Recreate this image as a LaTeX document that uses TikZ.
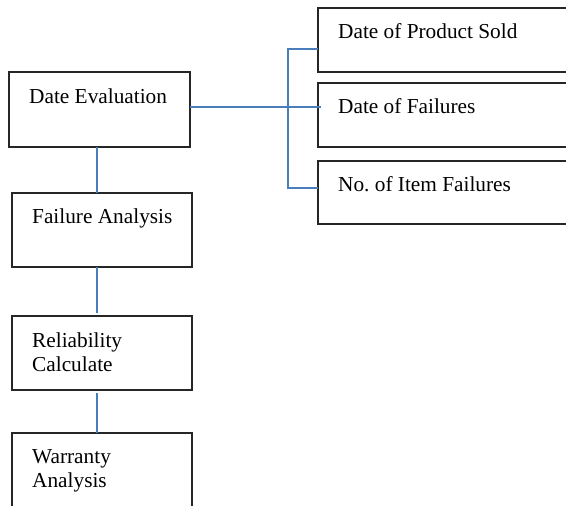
\documentclass[tikz,border=0pt]{standalone}
\usepackage{fontspec}
\setmainfont{Liberation Serif}
\definecolor{wireblue}{HTML}{4A7EBB}
\begin{document}
\begin{tikzpicture}[x=1pt,y=-1pt,
  blk/.style={draw=black!85,line width=1.1pt,rectangle,anchor=north west,inner sep=0pt,outer sep=0pt,minimum width=180pt,minimum height=74pt},
  txt/.style={anchor=base west,inner sep=0pt,align=left,font=\fontsize{21.3}{24.5}\selectfont},
  wire/.style={draw=wireblue,line width=1.3pt}]
\def\dx{20};
\def\dy{30};
\def\ls{24.5};
\useasboundingbox (0,0) rectangle (566,506);
\clip (0,0) rectangle (566,506);
% left column
\node[blk,minimum width=181pt,minimum height=75pt] (A) at (9,72) {};
\node[blk] (B) at (12,193) {};
\node[blk] (C) at (12,316) {};
\node[blk,minimum height=90pt] (D) at (12,433) {};
% right column
\node[blk,minimum width=270pt,minimum height=64pt] (P) at (318,8) {};
\node[blk,minimum width=270pt,minimum height=64pt] (Q) at (318,83) {};
\node[blk,minimum width=270pt,minimum height=63pt] (R) at (318,161) {};

\node[txt] (At) at ([shift={(\dx,\dy+1)}]A.north west) {Date Evaluation};
\node[txt] (Bt) at ([shift={(\dx,\dy)}]B.north west) {Failure Analysis};
\node[txt] (Ct) at ([shift={(\dx,\dy+\ls+1)}]C.north west) {Reliability\\Calculate};
\node[txt] (Dt) at ([shift={(\dx,\dy+\ls)}]D.north west) {Warranty\\Analysis};
\node[txt] (Pt) at ([shift={(\dx,\dy)}]P.north west) {Date of Product Sold};
\node[txt] (Qt) at ([shift={(\dx,\dy)}]Q.north west) {Date of Failures};
\node[txt] (Rt) at ([shift={(\dx,\dy)}]R.north west) {No.\ of Item Failures};

\coordinate (v) at (97,0);
\coordinate (bus) at (288,0);
\coordinate (h) at (0,107);
\coordinate (t) at (0,49);
\coordinate (b) at (0,188);
\draw[wire] (v |- A.south) -- (v |- B.north);
\draw[wire] (v |- B.south) -- ([yshift=3pt]v |- C.north);
\draw[wire] ([yshift=-3pt]v |- C.south) -- (v |- D.north);
\draw[wire] (A.east |- h) -- ([xshift=3pt]Q.west |- h);
\draw[wire] (P.west |- t) -- (bus |- t) -- (bus |- b) -- (R.west |- b);
\end{tikzpicture}
\end{document}
